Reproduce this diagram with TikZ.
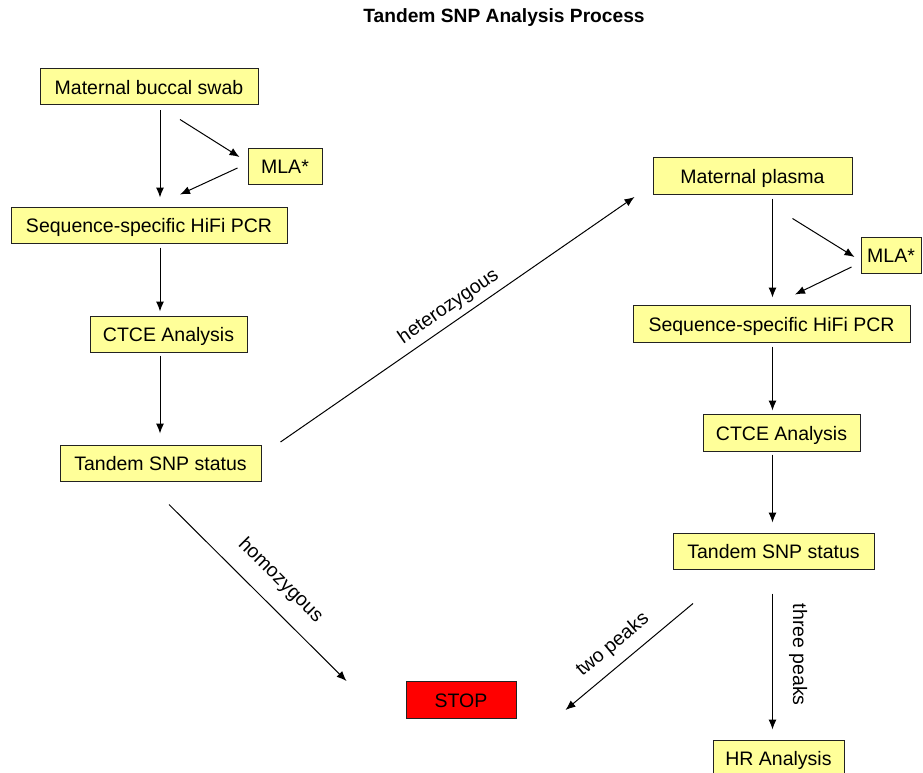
\documentclass[tikz,border=0pt]{standalone}
\usepackage{fontspec}
\setmainfont{Liberation Sans}
\usetikzlibrary{arrows.meta,calc}
\definecolor{boxyellow}{HTML}{FFFF99}
\definecolor{stopred}{HTML}{FF0000}
\definecolor{edgegray}{HTML}{222222}
\begin{document}
\begin{tikzpicture}[x=1pt,y=-1pt,
  box/.style={draw=edgegray, line width=1pt, fill=boxyellow, minimum height=36pt,
    inner sep=0pt, text=black, text height=16pt, text depth=1pt,
    font=\fontsize{19.5}{23}\selectfont},
  arr/.style={-{Latex[length=10pt,width=8pt]}, line width=1pt},
  arrback/.style={{Latex[length=10pt,width=8pt]}-, line width=1pt},
  lab/.style={font=\fontsize{19.5}{23}\selectfont, inner sep=0pt}
]
\useasboundingbox (0,0) rectangle (923,773);

% title
\node[font=\bfseries\fontsize{19.2}{22}\selectfont] (title) at (504,18) {Tandem SNP Analysis Process};

% left column
\node[box, minimum width=218pt] (buccal) at (149,87) {Maternal buccal swab};
\node[box, minimum width=74pt] (mlaL) at (285,166) {MLA*};
\node[box, minimum width=276pt] (pcrL) at (149,225) {Sequence-specific HiFi PCR};
\node[box, minimum width=157pt] (ctceL) at (168.5,334) {CTCE Analysis};
\node[box, minimum width=201pt] (tsL) at (160.5,463) {Tandem SNP status};

% right column
\node[box, minimum width=199pt, minimum height=37pt] (plasma) at (752.5,175.5) {Maternal plasma};
\node[box, minimum width=60pt] (mlaR) at (891,255) {MLA*};
\node[box, minimum width=277pt, minimum height=37pt] (pcrR) at (771.5,323.5) {Sequence-specific HiFi PCR};
\node[box, minimum width=157pt, minimum height=37pt] (ctceR) at (781.5,432.5) {CTCE Analysis};
\node[box, minimum width=201pt] (tsR) at (773.5,551) {Tandem SNP status};
\node[box, minimum width=131pt] (hr) at (778.5,758) {HR Analysis};

% stop
\node[box, fill=stopred, minimum width=110pt, minimum height=37pt] (stop) at (461,699.5) {STOP};

% left connectors
\draw[arr] ($(buccal.south)+(11,5)$) -- ($(pcrL.north)+(11,-9)$);
\draw[arr] ($(buccal.south)+(31,14)$) -- ($(mlaL.west)+(-8,-9)$);
\draw[arr] ($(mlaL.west)+(-10,2)$) -- ($(pcrL.north)+(31,-12)$);
\draw[arr] ($(pcrL.south)+(11,4)$) -- ($(ctceL.north)+(-8.5,-4)$);
\draw[arr] ($(ctceL.south)+(-8.5,3)$) -- ($(tsL.north)+(-0.5,-11)$);

% branches
\draw[arr] ($(tsL.east)+(19,-21)$) -- ($(plasma.west)+(-18,21.5)$)
  node[lab, sloped, above=6pt, pos=0.5] {heterozygous};
\draw[arr] ($(tsL.south)+(8.5,23)$) -- ($(stop.west)+(-59,-18.5)$)
  node[lab, sloped, above=15pt, pos=0.53] {homozygous};

% right connectors
\draw[arr] ($(plasma.south)+(20,4)$) -- ($(pcrR.north)+(1,-7)$);
\draw[arr] ($(plasma.south)+(40,24)$) -- ($(mlaR.west)+(-6,2)$);
\draw[arr] ($(mlaR.west)+(-9,12)$) -- ($(pcrR.north)+(23.5,-10)$);
\draw[arr] ($(pcrR.south)+(1,4)$) -- ($(ctceR.north)+(-9,-3)$);
\draw[arr] ($(ctceR.south)+(-9,3)$) -- ($(tsR.north)+(-1,-10)$);

\draw[arrback] ($(stop.east)+(49,10.5)$) -- ($(tsR.south)+(-80.5,34)$)
  node[lab, sloped, above=10pt, pos=0.47] {two peaks};
\draw[arr] ($(tsR.south)+(-1,24)$) -- ($(hr.north)+(-6,-10)$)
  node[lab, rotate=-90, anchor=south, inner ysep=16pt, pos=0.45] {three peaks};
\end{tikzpicture}
\end{document}
